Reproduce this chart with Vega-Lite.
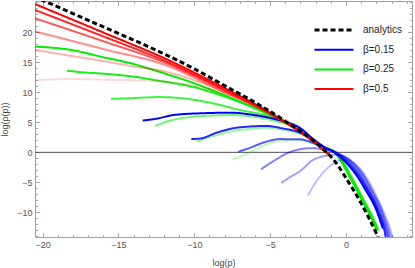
{
  "$schema": "https://vega.github.io/schema/vega-lite/v6.json",
  "width": 377,
  "height": 236,
  "autosize": "none",
  "padding": {"left": 35, "top": 1, "right": 3, "bottom": 31},
  "background": "white",
  "config": {
    "view": {"stroke": "#a0a0a0", "strokeWidth": 1},
    "axis": {"labelFont": "Liberation Sans", "labelFontSize": 9, "labelColor": "#555555", "titleFont": "Liberation Sans", "titleFontSize": 9, "titleColor": "#444444", "titleFontWeight": "normal", "grid": false, "domain": false, "tickColor": "#a8a8a8", "tickWidth": 1},
    "legend": {"labelFont": "Liberation Sans", "labelFontSize": 10, "labelColor": "#222222"}
  },
  "datasets": {
    "curves": [
      {"s":"G1","g":"β=0.25","x":-20.6,"y":17.6},{"s":"G1","g":"β=0.25","x":-19.5,"y":17.45},{"s":"G1","g":"β=0.25","x":-18,"y":17.0},{"s":"G1","g":"β=0.25","x":-16.1,"y":15.9},{"s":"G1","g":"β=0.25","x":-14,"y":14.7},{"s":"G1","g":"β=0.25","x":-12.3,"y":13.4},{"s":"G1","g":"β=0.25","x":-10,"y":11.5},{"s":"G1","g":"β=0.25","x":-8,"y":9.5},{"s":"G1","g":"β=0.25","x":-6,"y":7.4},{"s":"G1","g":"β=0.25","x":-4.6,"y":5.8},{"s":"G1","g":"β=0.25","x":-3.7,"y":4.6},{"s":"G1","g":"β=0.25","x":-3,"y":3.5},{"s":"G1","g":"β=0.25","x":-2.2,"y":2.0},{"s":"G1","g":"β=0.25","x":-1.5,"y":0.9},{"s":"G1","g":"β=0.25","x":-0.76,"y":0},{"s":"G1","g":"β=0.25","x":-0.25,"y":-1.8},{"s":"G1","g":"β=0.25","x":0.2,"y":-3.9},{"s":"G1","g":"β=0.25","x":0.65,"y":-6.0},{"s":"G1","g":"β=0.25","x":1.15,"y":-8.4},{"s":"G1","g":"β=0.25","x":1.65,"y":-10.8},{"s":"G1","g":"β=0.25","x":2.05,"y":-13.0},
      {"s":"G2","g":"β=0.25","x":-18.4,"y":13.6},{"s":"G2","g":"β=0.25","x":-17.5,"y":13.35},{"s":"G2","g":"β=0.25","x":-16,"y":13.1},{"s":"G2","g":"β=0.25","x":-14,"y":12.6},{"s":"G2","g":"β=0.25","x":-12.3,"y":11.9},{"s":"G2","g":"β=0.25","x":-10.1,"y":10.9},{"s":"G2","g":"β=0.25","x":-7.9,"y":9.2},{"s":"G2","g":"β=0.25","x":-5.7,"y":7.0},{"s":"G2","g":"β=0.25","x":-4.6,"y":5.75},{"s":"G2","g":"β=0.25","x":-3.7,"y":4.55},{"s":"G2","g":"β=0.25","x":-3,"y":3.45},{"s":"G2","g":"β=0.25","x":-2.2,"y":1.98},{"s":"G2","g":"β=0.25","x":-1.5,"y":0.88},{"s":"G2","g":"β=0.25","x":-0.74,"y":0},{"s":"G2","g":"β=0.25","x":-0.22,"y":-1.8},{"s":"G2","g":"β=0.25","x":0.23,"y":-3.9},{"s":"G2","g":"β=0.25","x":0.68,"y":-6.0},{"s":"G2","g":"β=0.25","x":1.18,"y":-8.4},{"s":"G2","g":"β=0.25","x":1.68,"y":-10.8},{"s":"G2","g":"β=0.25","x":2.08,"y":-13.0},
      {"s":"G3","g":"β=0.25","x":-15.5,"y":8.9},{"s":"G3","g":"β=0.25","x":-14.3,"y":9.0},{"s":"G3","g":"β=0.25","x":-12.3,"y":9.2},{"s":"G3","g":"β=0.25","x":-9.9,"y":8.7},{"s":"G3","g":"β=0.25","x":-8.5,"y":8.0},{"s":"G3","g":"β=0.25","x":-7,"y":7.05},{"s":"G3","g":"β=0.25","x":-5.5,"y":6.3},{"s":"G3","g":"β=0.25","x":-4.6,"y":5.7},{"s":"G3","g":"β=0.25","x":-3.7,"y":4.5},{"s":"G3","g":"β=0.25","x":-3,"y":3.42},{"s":"G3","g":"β=0.25","x":-2.2,"y":1.95},{"s":"G3","g":"β=0.25","x":-1.5,"y":0.86},{"s":"G3","g":"β=0.25","x":-0.72,"y":0},{"s":"G3","g":"β=0.25","x":-0.19,"y":-1.8},{"s":"G3","g":"β=0.25","x":0.26,"y":-3.9},{"s":"G3","g":"β=0.25","x":0.71,"y":-6.0},{"s":"G3","g":"β=0.25","x":1.21,"y":-8.4},{"s":"G3","g":"β=0.25","x":1.71,"y":-10.8},{"s":"G3","g":"β=0.25","x":2.1,"y":-13.0},
      {"s":"G4","g":"β=0.25","x":-12.6,"y":4.4},{"s":"G4","g":"β=0.25","x":-11.4,"y":5.4},{"s":"G4","g":"β=0.25","x":-9.6,"y":6.0},{"s":"G4","g":"β=0.25","x":-7.5,"y":6.2},{"s":"G4","g":"β=0.25","x":-6.3,"y":6.0},{"s":"G4","g":"β=0.25","x":-4.5,"y":5.1},{"s":"G4","g":"β=0.25","x":-3.0,"y":3.7},{"s":"G4","g":"β=0.25","x":-2.2,"y":2.0},{"s":"G4","g":"β=0.25","x":-1.5,"y":0.85},{"s":"G4","g":"β=0.25","x":-0.7,"y":0},{"s":"G4","g":"β=0.25","x":-0.16,"y":-1.8},{"s":"G4","g":"β=0.25","x":0.29,"y":-3.9},{"s":"G4","g":"β=0.25","x":0.74,"y":-6.0},{"s":"G4","g":"β=0.25","x":1.24,"y":-8.4},{"s":"G4","g":"β=0.25","x":1.74,"y":-10.8},{"s":"G4","g":"β=0.25","x":2.12,"y":-13.0},
      {"s":"G5","g":"β=0.25","x":-9.86,"y":1.77},{"s":"G5","g":"β=0.25","x":-8.5,"y":2.9},{"s":"G5","g":"β=0.25","x":-7.4,"y":3.6},{"s":"G5","g":"β=0.25","x":-6.3,"y":3.9},{"s":"G5","g":"β=0.25","x":-5.25,"y":4.1},{"s":"G5","g":"β=0.25","x":-4.0,"y":3.7},{"s":"G5","g":"β=0.25","x":-3,"y":3.1},{"s":"G5","g":"β=0.25","x":-2.2,"y":1.9},{"s":"G5","g":"β=0.25","x":-1.5,"y":0.8},{"s":"G5","g":"β=0.25","x":-0.68,"y":0},{"s":"G5","g":"β=0.25","x":-0.13,"y":-1.8},{"s":"G5","g":"β=0.25","x":0.32,"y":-3.9},{"s":"G5","g":"β=0.25","x":0.77,"y":-6.0},{"s":"G5","g":"β=0.25","x":1.27,"y":-8.4},{"s":"G5","g":"β=0.25","x":1.77,"y":-10.8},{"s":"G5","g":"β=0.25","x":2.15,"y":-13.0},
      {"s":"G6","g":"β=0.25","x":-7.45,"y":-1.17},{"s":"G6","g":"β=0.25","x":-6.5,"y":-0.2},{"s":"G6","g":"β=0.25","x":-5.25,"y":1.3},{"s":"G6","g":"β=0.25","x":-4.4,"y":1.9},{"s":"G6","g":"β=0.25","x":-3,"y":2.0},{"s":"G6","g":"β=0.25","x":-2.2,"y":1.5},{"s":"G6","g":"β=0.25","x":-1.5,"y":0.7},{"s":"G6","g":"β=0.25","x":-0.66,"y":0},{"s":"G6","g":"β=0.25","x":-0.1,"y":-1.8},{"s":"G6","g":"β=0.25","x":0.35,"y":-3.9},{"s":"G6","g":"β=0.25","x":0.8,"y":-6.0},{"s":"G6","g":"β=0.25","x":1.3,"y":-8.4},{"s":"G6","g":"β=0.25","x":1.8,"y":-10.8},{"s":"G6","g":"β=0.25","x":2.18,"y":-13.0},
      {"s":"B1","g":"β=0.15","x":-13.4,"y":5.3},{"s":"B1","g":"β=0.15","x":-12.5,"y":5.6},{"s":"B1","g":"β=0.15","x":-11.4,"y":6.2},{"s":"B1","g":"β=0.15","x":-9.6,"y":6.5},{"s":"B1","g":"β=0.15","x":-7.5,"y":6.6},{"s":"B1","g":"β=0.15","x":-6.3,"y":6.3},{"s":"B1","g":"β=0.15","x":-4.5,"y":5.4},{"s":"B1","g":"β=0.15","x":-3.0,"y":4.0},{"s":"B1","g":"β=0.15","x":-2.2,"y":2.3},{"s":"B1","g":"β=0.15","x":-1.5,"y":1.0},{"s":"B1","g":"β=0.15","x":-0.76,"y":0},{"s":"B1","g":"β=0.15","x":0,"y":-1.7},{"s":"B1","g":"β=0.15","x":0.6,"y":-3.5},{"s":"B1","g":"β=0.15","x":1.3,"y":-6.3},{"s":"B1","g":"β=0.15","x":2.0,"y":-9.6},{"s":"B1","g":"β=0.15","x":2.43,"y":-12.7},
      {"s":"B2","g":"β=0.15","x":-10.2,"y":2.2},{"s":"B2","g":"β=0.15","x":-9.6,"y":2.3},{"s":"B2","g":"β=0.15","x":-8.5,"y":3.3},{"s":"B2","g":"β=0.15","x":-7.45,"y":4.0},{"s":"B2","g":"β=0.15","x":-6.3,"y":4.3},{"s":"B2","g":"β=0.15","x":-5.25,"y":4.4},{"s":"B2","g":"β=0.15","x":-4.2,"y":4.0},{"s":"B2","g":"β=0.15","x":-3.06,"y":3.3},{"s":"B2","g":"β=0.15","x":-2.2,"y":2.1},{"s":"B2","g":"β=0.15","x":-1.5,"y":0.95},{"s":"B2","g":"β=0.15","x":-0.72,"y":0},{"s":"B2","g":"β=0.15","x":0.05,"y":-1.6},{"s":"B2","g":"β=0.15","x":0.7,"y":-3.4},{"s":"B2","g":"β=0.15","x":1.4,"y":-6.2},{"s":"B2","g":"β=0.15","x":2.1,"y":-9.7},{"s":"B2","g":"β=0.15","x":2.55,"y":-13.2},{"s":"B2","g":"β=0.15","x":2.65,"y":-14.6},
      {"s":"B3","g":"β=0.15","x":-7.1,"y":0.1},{"s":"B3","g":"β=0.15","x":-6.5,"y":0.6},{"s":"B3","g":"β=0.15","x":-5.25,"y":1.77},{"s":"B3","g":"β=0.15","x":-4.4,"y":2.2},{"s":"B3","g":"β=0.15","x":-3.06,"y":2.17},{"s":"B3","g":"β=0.15","x":-2.2,"y":1.6},{"s":"B3","g":"β=0.15","x":-1.5,"y":0.8},{"s":"B3","g":"β=0.15","x":-0.68,"y":0},{"s":"B3","g":"β=0.15","x":0.15,"y":-1.5},{"s":"B3","g":"β=0.15","x":0.8,"y":-3.3},{"s":"B3","g":"β=0.15","x":1.5,"y":-6.2},{"s":"B3","g":"β=0.15","x":2.2,"y":-9.8},{"s":"B3","g":"β=0.15","x":2.7,"y":-13.5},{"s":"B3","g":"β=0.15","x":2.8,"y":-14.6},
      {"s":"B4","g":"β=0.15","x":-5.6,"y":-2.8},{"s":"B4","g":"β=0.15","x":-4.8,"y":-1.5},{"s":"B4","g":"β=0.15","x":-4.0,"y":-0.3},{"s":"B4","g":"β=0.15","x":-3.06,"y":0.5},{"s":"B4","g":"β=0.15","x":-2.2,"y":0.7},{"s":"B4","g":"β=0.15","x":-1.4,"y":0.4},{"s":"B4","g":"β=0.15","x":-0.6,"y":-0.1},{"s":"B4","g":"β=0.15","x":0.3,"y":-1.5},{"s":"B4","g":"β=0.15","x":0.95,"y":-3.3},{"s":"B4","g":"β=0.15","x":1.65,"y":-6.3},{"s":"B4","g":"β=0.15","x":2.35,"y":-10},{"s":"B4","g":"β=0.15","x":2.8,"y":-13.5},{"s":"B4","g":"β=0.15","x":2.9,"y":-14.6},
      {"s":"B5","g":"β=0.15","x":-4.27,"y":-5.1},{"s":"B5","g":"β=0.15","x":-3.6,"y":-4.0},{"s":"B5","g":"β=0.15","x":-3.06,"y":-3.2},{"s":"B5","g":"β=0.15","x":-2.19,"y":-1.3},{"s":"B5","g":"β=0.15","x":-1.4,"y":-0.6},{"s":"B5","g":"β=0.15","x":-0.7,"y":-0.4},{"s":"B5","g":"β=0.15","x":0,"y":-0.8},{"s":"B5","g":"β=0.15","x":0.5,"y":-1.8},{"s":"B5","g":"β=0.15","x":1.05,"y":-3.4},{"s":"B5","g":"β=0.15","x":1.75,"y":-6.4},{"s":"B5","g":"β=0.15","x":2.45,"y":-10.2},{"s":"B5","g":"β=0.15","x":2.9,"y":-13.5},{"s":"B5","g":"β=0.15","x":3.0,"y":-14.6},
      {"s":"B6","g":"β=0.15","x":-2.5,"y":-7.2},{"s":"B6","g":"β=0.15","x":-2.1,"y":-5.4},{"s":"B6","g":"β=0.15","x":-1.74,"y":-4.1},{"s":"B6","g":"β=0.15","x":-1.2,"y":-2.6},{"s":"B6","g":"β=0.15","x":-0.65,"y":-1.6},{"s":"B6","g":"β=0.15","x":0,"y":-1.2},{"s":"B6","g":"β=0.15","x":0.5,"y":-1.7},{"s":"B6","g":"β=0.15","x":1.15,"y":-3.4},{"s":"B6","g":"β=0.15","x":1.85,"y":-6.5},{"s":"B6","g":"β=0.15","x":2.55,"y":-10.3},{"s":"B6","g":"β=0.15","x":3.0,"y":-13.5},{"s":"B6","g":"β=0.15","x":3.1,"y":-14.6},
      {"s":"R6","g":"β=0.5","x":-20.6,"y":12.0},{"s":"R6","g":"β=0.5","x":-18,"y":12.2},{"s":"R6","g":"β=0.5","x":-16,"y":12.1},{"s":"R6","g":"β=0.5","x":-14,"y":12.0},{"s":"R6","g":"β=0.5","x":-12,"y":11.8},{"s":"R6","g":"β=0.5","x":-10,"y":11.1},{"s":"R6","g":"β=0.5","x":-8,"y":9.8},{"s":"R6","g":"β=0.5","x":-6,"y":7.7},{"s":"R6","g":"β=0.5","x":-5,"y":6.35},{"s":"R6","g":"β=0.5","x":-4,"y":4.9},{"s":"R6","g":"β=0.5","x":-3,"y":3.35},{"s":"R6","g":"β=0.5","x":-2,"y":1.53},{"s":"R6","g":"β=0.5","x":-1,"y":-0.7},
      {"s":"R5","g":"β=0.5","x":-20.6,"y":17.1},{"s":"R5","g":"β=0.5","x":-18,"y":16.0},{"s":"R5","g":"β=0.5","x":-16,"y":15.2},{"s":"R5","g":"β=0.5","x":-14,"y":14.3},{"s":"R5","g":"β=0.5","x":-12,"y":13.5},{"s":"R5","g":"β=0.5","x":-10,"y":12.0},{"s":"R5","g":"β=0.5","x":-8,"y":10.0},{"s":"R5","g":"β=0.5","x":-6,"y":7.75},{"s":"R5","g":"β=0.5","x":-5,"y":6.4},{"s":"R5","g":"β=0.5","x":-4,"y":4.95},{"s":"R5","g":"β=0.5","x":-3,"y":3.38},{"s":"R5","g":"β=0.5","x":-2,"y":1.54},{"s":"R5","g":"β=0.5","x":-1,"y":-0.7},
      {"s":"R4","g":"β=0.5","x":-20.6,"y":20.2},{"s":"R4","g":"β=0.5","x":-16,"y":17.2},{"s":"R4","g":"β=0.5","x":-12,"y":14.6},{"s":"R4","g":"β=0.5","x":-8,"y":10.0},{"s":"R4","g":"β=0.5","x":-6,"y":7.7},{"s":"R4","g":"β=0.5","x":-5,"y":6.4},{"s":"R4","g":"β=0.5","x":-4,"y":4.95},{"s":"R4","g":"β=0.5","x":-3,"y":3.38},{"s":"R4","g":"β=0.5","x":-2,"y":1.54},{"s":"R4","g":"β=0.5","x":-1.5,"y":0.45},{"s":"R4","g":"β=0.5","x":-1,"y":-0.7},
      {"s":"R3","g":"β=0.5","x":-20.6,"y":22.4},{"s":"R3","g":"β=0.5","x":-16,"y":18.5},{"s":"R3","g":"β=0.5","x":-12,"y":15.0},{"s":"R3","g":"β=0.5","x":-8,"y":10.25},{"s":"R3","g":"β=0.5","x":-6,"y":7.8},{"s":"R3","g":"β=0.5","x":-5,"y":6.45},{"s":"R3","g":"β=0.5","x":-4,"y":5.0},{"s":"R3","g":"β=0.5","x":-3,"y":3.4},{"s":"R3","g":"β=0.5","x":-2,"y":1.55},{"s":"R3","g":"β=0.5","x":-1.5,"y":0.46},{"s":"R3","g":"β=0.5","x":-1,"y":-0.7},
      {"s":"R2","g":"β=0.5","x":-20.6,"y":23.8},{"s":"R2","g":"β=0.5","x":-16,"y":19.3},{"s":"R2","g":"β=0.5","x":-12,"y":15.3},{"s":"R2","g":"β=0.5","x":-8,"y":10.45},{"s":"R2","g":"β=0.5","x":-6,"y":7.9},{"s":"R2","g":"β=0.5","x":-5,"y":6.5},{"s":"R2","g":"β=0.5","x":-4,"y":5.05},{"s":"R2","g":"β=0.5","x":-3,"y":3.42},{"s":"R2","g":"β=0.5","x":-2,"y":1.56},{"s":"R2","g":"β=0.5","x":-1.5,"y":0.47},{"s":"R2","g":"β=0.5","x":-1,"y":-0.7},
      {"s":"R1","g":"β=0.5","x":-20.6,"y":24.8},{"s":"R1","g":"β=0.5","x":-16,"y":19.95},{"s":"R1","g":"β=0.5","x":-12,"y":15.7},{"s":"R1","g":"β=0.5","x":-8,"y":10.7},{"s":"R1","g":"β=0.5","x":-6,"y":8.05},{"s":"R1","g":"β=0.5","x":-5,"y":6.6},{"s":"R1","g":"β=0.5","x":-4,"y":5.1},{"s":"R1","g":"β=0.5","x":-3,"y":3.45},{"s":"R1","g":"β=0.5","x":-2,"y":1.58},{"s":"R1","g":"β=0.5","x":-1.5,"y":0.48},{"s":"R1","g":"β=0.5","x":-1,"y":-0.7},
      {"s":"A","g":"analytics","x":-20.6,"y":25.9},{"s":"A","g":"analytics","x":-20,"y":25.3},{"s":"A","g":"analytics","x":-18,"y":23.1},{"s":"A","g":"analytics","x":-16,"y":20.9},{"s":"A","g":"analytics","x":-14,"y":18.7},{"s":"A","g":"analytics","x":-12,"y":16.4},{"s":"A","g":"analytics","x":-10,"y":13.9},{"s":"A","g":"analytics","x":-8,"y":11.1},{"s":"A","g":"analytics","x":-6,"y":8.3},{"s":"A","g":"analytics","x":-5,"y":6.8},{"s":"A","g":"analytics","x":-4,"y":5.2},{"s":"A","g":"analytics","x":-3,"y":3.5},{"s":"A","g":"analytics","x":-2,"y":1.6},{"s":"A","g":"analytics","x":-1.5,"y":0.5},{"s":"A","g":"analytics","x":-1,"y":-0.7},{"s":"A","g":"analytics","x":-0.5,"y":-2.3},{"s":"A","g":"analytics","x":0,"y":-4.3},{"s":"A","g":"analytics","x":0.5,"y":-6.3},{"s":"A","g":"analytics","x":1,"y":-8.5},{"s":"A","g":"analytics","x":1.5,"y":-10.9},{"s":"A","g":"analytics","x":2,"y":-13.5},{"s":"A","g":"analytics","x":2.2,"y":-14.6}
    ],
    "zero": [{"y": 0}],
    "anchor": [{"x": 0, "y": 0}]
  },
  "layer": [
    {
      "data": {"name": "zero"},
      "mark": {"type": "rule", "color": "#505050", "strokeWidth": 1},
      "encoding": {
        "y": {"field": "y", "type": "quantitative", "scale": {"domain": [-14.1, 25.2], "nice": false, "zero": false}, "axis": null}
      }
    },
    {
      "data": {"name": "curves"},
      "mark": {"type": "line", "clip": true, "interpolate": "monotone"},
      "encoding": {
        "x": {"field": "x", "type": "quantitative", "scale": {"domain": [-20.5, 4.35], "nice": false, "zero": false},
              "axis": {"orient": "bottom", "values": [-20, -15, -10, -5, 0], "ticks": false, "labelPadding": 3, "title": "log(p)", "titleBaseline": "middle", "titleY": 25}},
        "y": {"field": "y", "type": "quantitative", "scale": {"domain": [-14.1, 25.2], "nice": false, "zero": false},
              "axis": {"orient": "left", "values": [-10, -5, 0, 5, 10, 15, 20], "ticks": false, "labelPadding": 3, "title": "log(ρ(p))", "titleX": -31, "titleY": 118, "titleAlign": "center", "titleBaseline": "middle", "titleAngle": -90}},
        "detail": {"field": "s", "type": "nominal"},
        "color": {"field": "g", "type": "nominal",
                  "scale": {"domain": ["analytics", "β=0.15", "β=0.25", "β=0.5"], "range": ["#000000", "#0000ff", "#00ee00", "#ff0000"]},
                  "legend": {"orient": "none", "legendX": 278, "legendY": 24, "title": null, "symbolType": "stroke", "symbolSize": 1521, "labelOffset": 8, "rowPadding": 9.7, "clipHeight": 10, "padding": 0}},
        "strokeDash": {"field": "g", "type": "nominal",
                  "scale": {"domain": ["analytics", "β=0.15", "β=0.25", "β=0.5"], "range": [[5, 3], [1, 0], [1, 0], [1, 0]]},
                  "legend": {"orient": "none", "legendX": 278, "legendY": 24, "title": null, "symbolType": "stroke", "symbolSize": 1521, "labelOffset": 8, "rowPadding": 9.7, "clipHeight": 10, "padding": 0}},
        "strokeWidth": {"field": "g", "type": "nominal",
                  "scale": {"type": "ordinal", "domain": ["analytics", "β=0.15", "β=0.25", "β=0.5"], "range": [3, 2, 2, 2]},
                  "legend": {"orient": "none", "legendX": 278, "legendY": 24, "title": null, "symbolType": "stroke", "symbolSize": 1521, "labelOffset": 8, "rowPadding": 9.7, "clipHeight": 10, "padding": 0}},
        "opacity": {"field": "s", "type": "nominal",
                  "scale": {"type": "ordinal", "domain": ["G1","G2","G3","G4","G5","G6","B1","B2","B3","B4","B5","B6","R1","R2","R3","R4","R5","R6","A"],
                            "range": [1, 0.9, 0.75, 0.55, 0.4, 0.28, 1, 0.85, 0.65, 0.5, 0.38, 0.25, 1, 0.85, 0.65, 0.45, 0.3, 0.15, 1]},
                  "legend": null}
      }
    },
    {
      "data": {"name": "anchor"},
      "mark": {"type": "point", "opacity": 0},
      "encoding": {
        "x": {"field": "x", "type": "quantitative", "scale": {"domain": [-20.5, 4.35], "nice": false, "zero": false},
              "axis": {"orient": "bottom", "values": [-20, -15, -10, -5, 0], "tickSize": -4.5, "labels": false, "title": null}},
        "y": {"field": "y", "type": "quantitative", "scale": {"domain": [-14.1, 25.2], "nice": false, "zero": false},
              "axis": {"orient": "left", "values": [-10, -5, 0, 5, 10, 15, 20], "tickSize": -4.5, "labels": false, "title": null}}
      }
    },
    {
      "data": {"name": "anchor"},
      "mark": {"type": "point", "opacity": 0},
      "encoding": {
        "x": {"field": "x", "type": "quantitative", "scale": {"domain": [-20.5, 4.35], "nice": false, "zero": false},
              "axis": {"orient": "bottom", "values": [-20,-19,-18,-17,-16,-15,-14,-13,-12,-11,-10,-9,-8,-7,-6,-5,-4,-3,-2,-1,0,1,2,3,4], "tickSize": -2.5, "labels": false, "title": null}},
        "y": {"field": "y", "type": "quantitative", "scale": {"domain": [-14.1, 25.2], "nice": false, "zero": false},
              "axis": {"orient": "left", "values": [-14,-13,-12,-11,-10,-9,-8,-7,-6,-5,-4,-3,-2,-1,0,1,2,3,4,5,6,7,8,9,10,11,12,13,14,15,16,17,18,19,20,21,22,23,24,25], "tickSize": -2.5, "labels": false, "title": null}}
      }
    },
    {
      "data": {"name": "anchor"},
      "mark": {"type": "point", "opacity": 0},
      "encoding": {
        "x": {"field": "x", "type": "quantitative", "scale": {"domain": [-20.5, 4.35], "nice": false, "zero": false},
              "axis": {"orient": "top", "values": [-20, -15, -10, -5, 0], "tickSize": -4.5, "labels": false, "title": null}},
        "y": {"field": "y", "type": "quantitative", "scale": {"domain": [-14.1, 25.2], "nice": false, "zero": false},
              "axis": {"orient": "right", "values": [-10, -5, 0, 5, 10, 15, 20], "tickSize": -4.5, "labels": false, "title": null}}
      }
    },
    {
      "data": {"name": "anchor"},
      "mark": {"type": "point", "opacity": 0},
      "encoding": {
        "x": {"field": "x", "type": "quantitative", "scale": {"domain": [-20.5, 4.35], "nice": false, "zero": false},
              "axis": {"orient": "top", "values": [-20,-19,-18,-17,-16,-15,-14,-13,-12,-11,-10,-9,-8,-7,-6,-5,-4,-3,-2,-1,0,1,2,3,4], "tickSize": -2.5, "labels": false, "title": null}},
        "y": {"field": "y", "type": "quantitative", "scale": {"domain": [-14.1, 25.2], "nice": false, "zero": false},
              "axis": {"orient": "right", "values": [-14,-13,-12,-11,-10,-9,-8,-7,-6,-5,-4,-3,-2,-1,0,1,2,3,4,5,6,7,8,9,10,11,12,13,14,15,16,17,18,19,20,21,22,23,24,25], "tickSize": -2.5, "labels": false, "title": null}}
      }
    }
  ],
  "resolve": {"axis": {"x": "independent", "y": "independent"}}
}
